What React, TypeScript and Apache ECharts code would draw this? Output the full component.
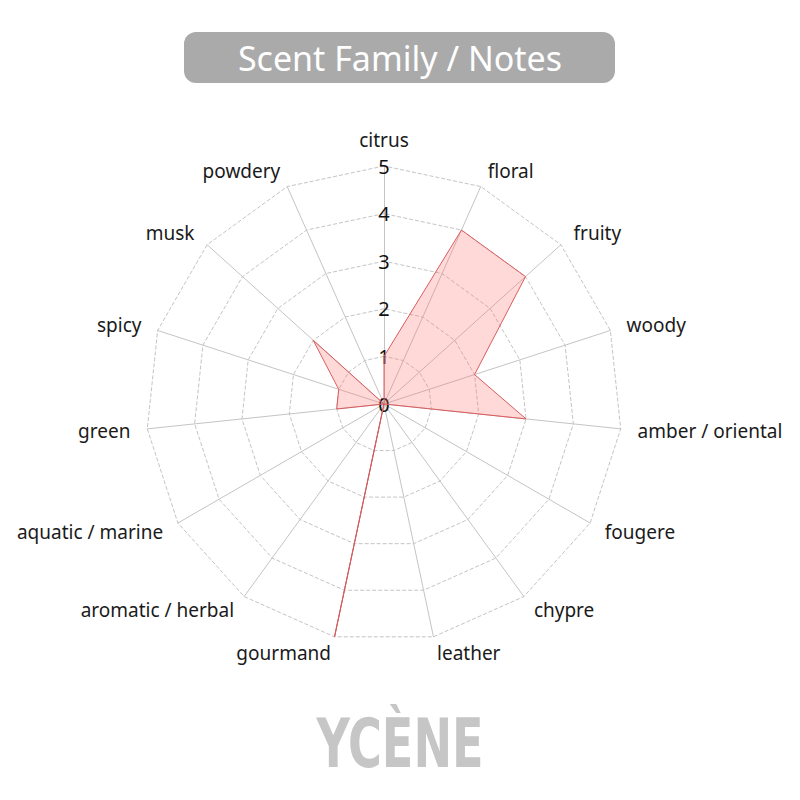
import React, { useEffect, useRef } from "react";
import * as echarts from "echarts";

const indicatorNames = [
  "citrus",
  "floral",
  "fruity",
  "woody",
  "amber / oriental",
  "fougere",
  "chypre",
  "leather",
  "gourmand",
  "aromatic / herbal",
  "aquatic / marine",
  "green",
  "spicy",
  "musk",
  "powdery",
];
const scentValues = [1, 4, 4, 2, 3, 0, 0, 0, 5, 0, 0, 1, 1, 2, 0];
const maxValue = 5;
const titleText = "Scent Family / Notes";
const brandText = "YCÈNE";

// ECharts radar runs counter-clockwise; keep the first axis on top and reverse the rest
const clockwise = <T,>(arr: T[]): T[] => [arr[0], ...arr.slice(1).reverse()];

export default function App() {
  const ref = useRef<HTMLDivElement>(null);
  useEffect(() => {
    if (!ref.current) return;
    const chart = echarts.init(ref.current, null, { renderer: "svg" });
    const font = "'Noto Sans', 'Open Sans', sans-serif";
    chart.setOption({
      animation: false,
      backgroundColor: "#ffffff",
      graphic: [
        {
          type: "rect",
          shape: { x: 184, y: 32, width: 431, height: 51, r: 12 },
          style: { fill: "#aaaaaa" },
        },
        {
          type: "text",
          x: 400,
          y: 58,
          style: {
            text: titleText,
            fill: "#ffffff",
            font: `34px ${font}`,
            align: "center",
            verticalAlign: "middle",
          },
        },
        {
          type: "text",
          x: 400,
          y: 743,
          scaleX: 0.755,
          style: {
            text: brandText,
            fill: "#c6c6c6",
            font: `bold 68px 'Liberation Sans Narrow', 'DejaVu Sans Condensed', 'Liberation Sans', sans-serif`,
            align: "center",
            verticalAlign: "middle",
          },
        },
      ],
      radar: [
        {
          center: [384, 404],
          radius: 238,
          startAngle: 90,
          shape: "polygon",
          splitNumber: 5,
          indicator: clockwise(indicatorNames).map((n) => ({ name: n, min: 0, max: maxValue })),
          axisName: { color: "#1a1a1a", fontSize: 19, fontFamily: font },
          nameGap: 17,
          axisLine: { lineStyle: { color: "#c4c4c4", width: 1 } },
          splitLine: { lineStyle: { color: "#c4c4c4", type: "dashed", width: 1 } },
          splitArea: { show: false },
          axisTick: { show: false },
          axisLabel: { show: false },
        },
        {
          center: [384, 404],
          radius: 238,
          startAngle: 90,
          shape: "polygon",
          splitNumber: 5,
          indicator: [{ name: "", min: 0, max: maxValue }],
          axisName: { show: false },
          axisLine: { show: false },
          splitLine: { show: false },
          splitArea: { show: false },
          axisTick: { show: false },
          axisLabel: {
            show: true,
            color: "#111111",
            fontSize: 20,
            fontFamily: font,
            margin: 0,
            align: "center",
            verticalAlign: "middle",
            showMinLabel: true,
            showMaxLabel: true,
          },
        },
      ],
      series: [
        {
          type: "radar",
          radarIndex: 0,
          symbol: "none",
          lineStyle: { color: "#d65a5c", width: 1 },
          areaStyle: { color: "rgba(255, 110, 110, 0.38)" },
          data: [{ value: clockwise(scentValues), name: "notes" }],
          z: 1,
        },
      ],
    });
    return () => chart.dispose();
  }, []);
  return (
    <div
      ref={ref}
      style={{ position: "fixed", left: 0, top: 0, width: 800, height: 800 }}
    />
  );
}
